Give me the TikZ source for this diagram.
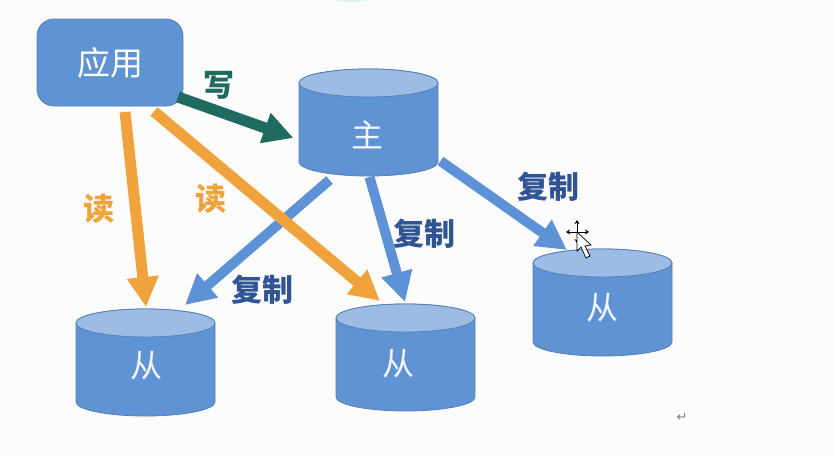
\documentclass[tikz,border=0pt]{standalone}
\usepackage{fontspec}
\newfontfamily\cjk{Noto Sans CJK SC}
\newfontfamily\symf{DejaVu Sans}
\usetikzlibrary{arrows.meta,calc}
\definecolor{dbfill}{HTML}{5F93D3}
\definecolor{dbtop}{HTML}{9CBCE6}
\definecolor{dbline}{HTML}{5580B4}
\definecolor{wrcol}{HTML}{1F6B60}
\definecolor{rdcol}{HTML}{F0A33C}
\definecolor{cpcol}{HTML}{5E92D6}
\definecolor{lbcol}{HTML}{2F5597}
\definecolor{arccol}{HTML}{E3F0F5}
\tikzset{
  x=1pt,y=-1pt,
  appbox/.style={draw=dbline,line width=.8pt,fill=dbfill,rounded corners=17pt,minimum width=146pt,minimum height=87pt,inner sep=0pt,text=white,font=\cjk\fontsize{33}{33}\selectfont},
  dbtext/.style={inner sep=0pt,minimum width=139pt,minimum height=60pt,text=white!92!dbfill,font=\cjk\fontsize{32}{32}\selectfont},
  tagtext/.style={inner sep=0pt,font=\cjk\bfseries\fontsize{31}{31}\selectfont},
  blockarrow/.style={line width=#1,-{Triangle[length=30pt,width=30pt]}},
  wr/.style={blockarrow=11pt,draw=wrcol,color=wrcol},
  rd/.style={blockarrow=11pt,draw=rdcol,color=rdcol},
  cp/.style={blockarrow=10pt,draw=cpcol,color=cpcol},
}
% \dbcyl{name}{left x}{top y}{text x}{text y}{text}
\newcommand{\dbcyl}[6]{%
  \draw[dbline,line width=.8pt,fill=dbfill]
    (#2,#3+14) -- (#2,#3+93) arc[start angle=180,end angle=360,x radius=69.5,y radius=-14]
    -- (#2+139,#3+14) arc[start angle=0,end angle=180,x radius=69.5,y radius=-14] -- cycle;
  \draw[dbline,line width=.8pt,fill=dbtop] (#2+69.5,#3+14) ellipse[x radius=69.5,y radius=14];
  \node[dbtext] (#1) at (#4,#5) {#6};
}
\begin{document}
\begin{tikzpicture}
\useasboundingbox (0,0) rectangle (834,456);
\fill[white!99!black] (0,0) rectangle (834,456);
\begin{scope}
  \clip (0,0) rectangle (834,456);
  \fill[arccol] (350,-8) ellipse[x radius=32,y radius=10];
\end{scope}

\node[appbox] (app) at (110,62.5) {应用};
\dbcyl{m}{299}{69}{367.5}{135}{主}
\dbcyl{sa}{76}{309}{146}{366}{从}
\dbcyl{sb}{336}{304}{398}{364}{从}
\dbcyl{sc}{533}{249}{602}{308}{从}

% connectors, offset from the named nodes
\draw[cp] ($(m)+(-38,45)$) -- ($(sa)+(39,-61)$);
\draw[cp] ($(m)+(2,42)$) -- ($(sb)+(7,-62)$);
\draw[cp] ($(m)+(73,26)$) -- ($(sc)+(-35,-58)$);
\draw[wr] ($(app)+(68,34.5)$) -- ($(m)+(-74,3)$);
\draw[rd] ($(app)+(15,49.5)$) -- ($(sa)+(0,-59)$);
\draw[rd] ($(app)+(44,49)$) -- ($(sb)+(-18,-63)$);

\node[tagtext,text=wrcol] (tw) at (219,85) {写};
\node[tagtext,text=rdcol] (tr1) at (99,209) {读};
\node[tagtext,text=rdcol] (tr2) at (211,199) {读};
\node[tagtext,text=lbcol] (tc1) at (262,290) {复制};
\node[tagtext,text=lbcol] (tc2) at (424,234) {复制};
\node[tagtext,text=lbcol] (tc3) at (548,187) {复制};

% pointer
\begin{scope}[line width=1pt,black]
  \draw[{Stealth[length=4pt,width=5pt]}-{Stealth[length=4pt,width=5pt]}] (566,232) -- (589,232);
  \draw[{Stealth[length=4pt,width=5pt]}-{Stealth[length=4pt,width=5pt]}] (577,220) -- (577,243);
\end{scope}
\draw[black,line width=.7pt,fill=white] (577,232) -- (577,251) -- (581,247) -- (586,258) -- (590,256) -- (585,246) -- (591,245) -- cycle;
\node[inner sep=0pt,text=gray,font=\symf\fontsize{13}{13}\selectfont] (ret) at (682,417) {↵};
\end{tikzpicture}
\end{document}
